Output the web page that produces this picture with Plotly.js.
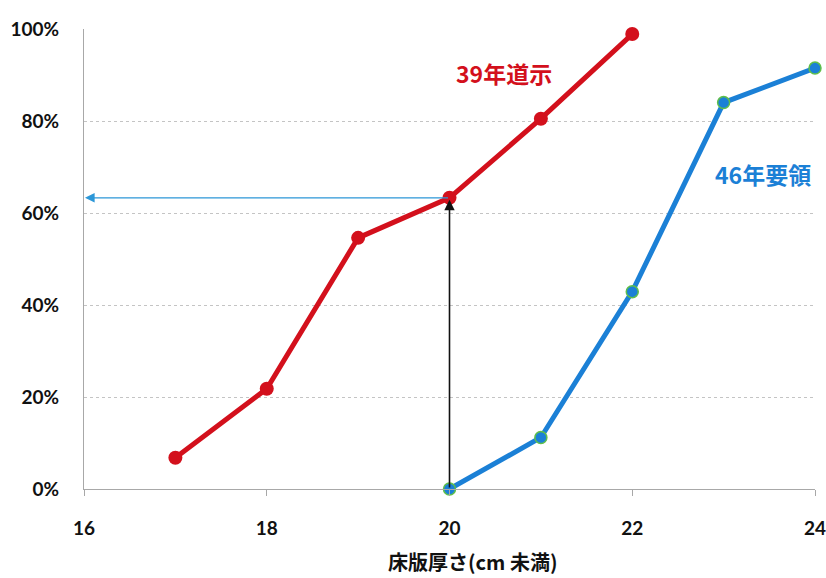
<!DOCTYPE html>
<html><head><meta charset="utf-8">
<script src="https://cdn.plot.ly/plotly-3.0.1.min.js"></script>
<style>html,body{margin:0;padding:0;background:#fff}</style>
</head><body><div id="chart" style="width:826px;height:578px"></div>
<script>
const redX = [17, 18, 19, 20, 21, 22];
const redY = [6.8, 21.8, 54.6, 63.3, 80.5, 98.9];
const blueX = [20, 21, 22, 23, 24];
const blueY = [0, 11.2, 42.9, 84.0, 91.5];
const redName = '39年道示';
const blueName = '46年要領';
const xTitle = '床版厚さ(cm 未満)';
const yTickVals = [0, 20, 40, 60, 80, 100];
const yTickText = yTickVals.map(v => v + '%');
const xTickVals = [16, 18, 20, 22, 24];

const RED = '#d3101c', BLUE = '#1b80d6';
const numFont = {family: 'Lato, "Liberation Sans", sans-serif', size: 19, color: '#111', weight: 'bold'};
const cjk = '"Noto Sans CJK JP", sans-serif';

const traces = [
  {x: redX, y: redY, mode: 'lines+markers', name: redName, cliponaxis: false,
   line: {color: RED, width: 5}, marker: {color: RED, size: 14}},
  {x: blueX, y: blueY, mode: 'lines+markers', name: blueName, cliponaxis: false,
   line: {color: BLUE, width: 5}, marker: {color: BLUE, size: 12, line: {color: '#5fbf4a', width: 1.5}}}
];

const hitX = redX[3], hitY = redY[3];
const layout = {
  width: 826, height: 578,
  margin: {l: 84, r: 11, t: 29, b: 88.5},
  paper_bgcolor: '#fff', plot_bgcolor: '#fff',
  showlegend: false,
  xaxis: {range: [16, 24], tickvals: xTickVals, showgrid: false, zeroline: false,
    showline: true, linecolor: '#a8a8a8', linewidth: 1,
    ticks: 'outside', ticklen: 6, tickcolor: '#a8a8a8', ticklabeloverflow: 'allow',
    ticklabelstandoff: 16, tickfont: numFont},
  yaxis: {range: [0, 100], tickvals: yTickVals, ticktext: yTickText, showgrid: true,
    gridcolor: '#c4c4c4', griddash: 'dot', gridwidth: 1, zeroline: false,
    showline: true, linecolor: '#a8a8a8', linewidth: 1,
    ticks: '', ticklabelstandoff: 20, tickfont: numFont},
  annotations: [
    {x: 16, y: hitY, ax: hitX, ay: hitY, xref: 'x', yref: 'y', axref: 'x', ayref: 'y',
     text: '', showarrow: true, arrowhead: 2, arrowsize: 1.6, arrowwidth: 1.2, arrowcolor: '#2c97d8', standoff: 1},
    {x: hitX, y: hitY, ax: hitX, ay: 0, xref: 'x', yref: 'y', axref: 'x', ayref: 'y',
     text: '', showarrow: true, arrowhead: 2, arrowsize: 1.3, arrowwidth: 1.6, arrowcolor: '#111', standoff: 2},
    {x: 20.6, y: 90.5, xref: 'x', yref: 'y', text: redName, showarrow: false,
     font: {family: cjk, size: 23, color: RED, weight: 'bold'}},
    {x: 23.43, y: 68.5, xref: 'x', yref: 'y', text: blueName, showarrow: false,
     font: {family: cjk, size: 23, color: BLUE, weight: 'bold'}},
    {x: 0.531, y: 0, xref: 'paper', yref: 'paper', yshift: -72, yanchor: 'middle', text: xTitle, showarrow: false,
     borderpad: 0, font: {family: cjk, size: 20, color: '#111', weight: 'bold'}}
  ]
};
Plotly.newPlot('chart', traces, layout, {displayModeBar: false, staticPlot: true});
</script></body></html>
